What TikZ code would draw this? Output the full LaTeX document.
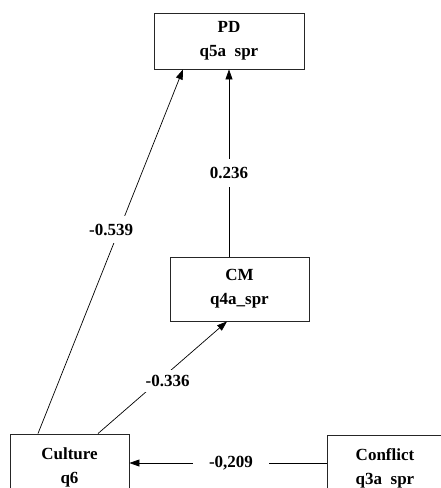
\documentclass[tikz,border=0pt]{standalone}
\usepackage{fontspec}
\setmainfont{Liberation Serif}
\usetikzlibrary{arrows.meta}
\begin{document}
\begin{tikzpicture}[x=1pt,y=-1pt,
  varbox/.style={draw=black!85, line width=0.9pt, rectangle, align=center,
    font=\fontsize{17}{24}\selectfont\bfseries, inner sep=0pt},
  arr/.style={line width=0.7pt, -{Triangle[length=10pt,width=7pt]}},
  lbl/.style={fill=white, font=\fontsize{17}{18}\selectfont\bfseries, inner xsep=3pt, inner ysep=8pt}]
\useasboundingbox (0,0) rectangle (441,488);
\clip (0,0) rectangle (441,488);
\fill[white] (0,0) rectangle (441,488);
\node[varbox, minimum width=150pt, minimum height=56pt] (PD) at (229,41) {PD\\q5a\ \ spr};
\node[varbox, minimum width=139pt, minimum height=64pt] (CM) at (239.5,289) {CM\\q4a\_spr};
\node[varbox, minimum width=119pt, minimum height=66pt] (Culture) at (69.5,467) {Culture\\q6};
\node[varbox, minimum width=116pt, minimum height=66pt] (Conflict) at (385,468) {Conflict\\q3a\ \ spr};
\draw[arr] (CM.north -| PD.south) -- node[lbl, pos=0.447] {0.236} (PD.south);
\draw[arr] ([xshift=-31.5pt]Culture.north) -- node[lbl, pos=0.56, xshift=-8pt] {-0.539} ([xshift=-46pt]PD.south);
\draw[arr] ([xshift=28.5pt]Culture.north) -- node[lbl, pos=0.47, xshift=9pt, inner ysep=5pt] {-0.336} ([xshift=-12.5pt]CM.south);
\draw[arr] ([yshift=5pt]Conflict.west) -- node[lbl, pos=0.485, inner xsep=16pt] {-0,209} ([yshift=4pt]Culture.east);
\end{tikzpicture}
\end{document}
